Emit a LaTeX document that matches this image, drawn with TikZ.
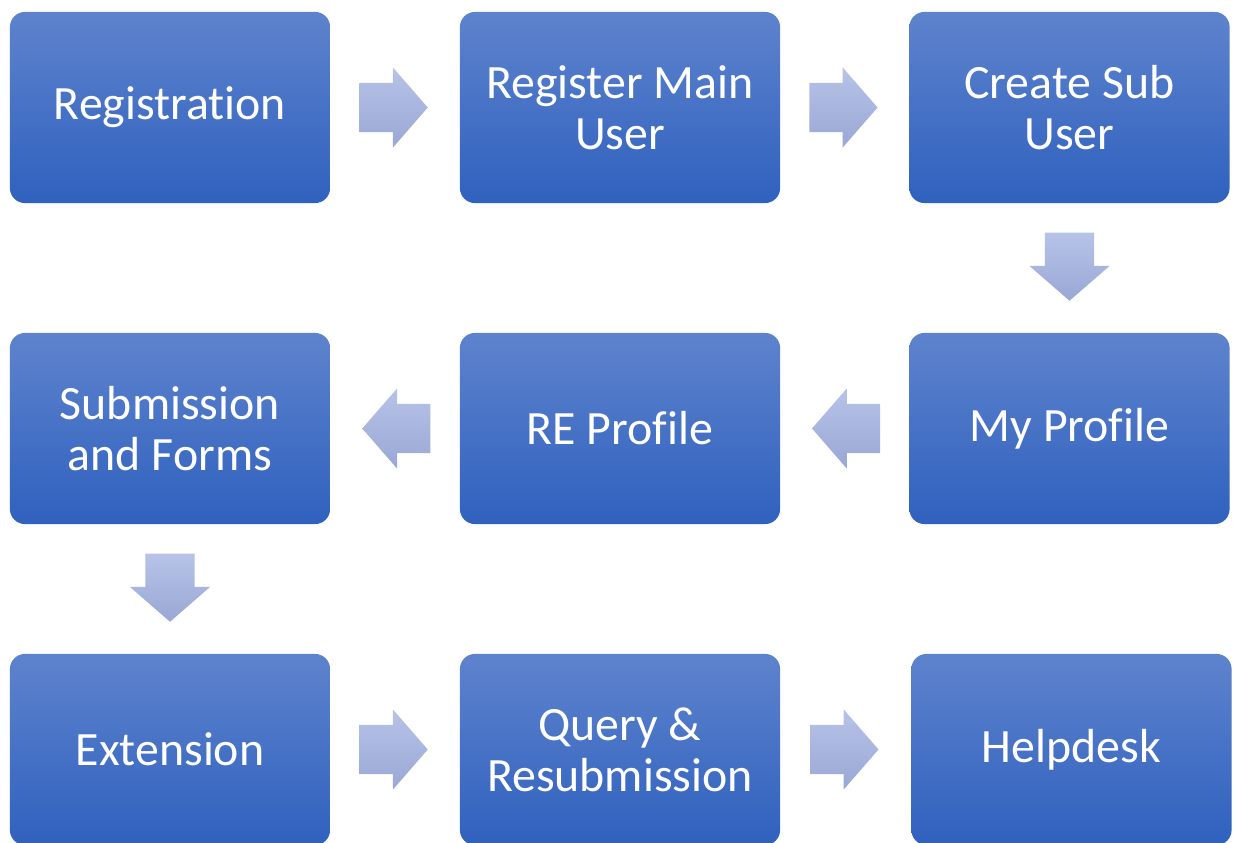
\documentclass[tikz,border=0pt]{standalone}
\usepackage{fontspec}
\setmainfont{Carlito}[RawFeature=-liga]
\usepackage{tikz}
\usetikzlibrary{positioning, shapes.arrows, calc}

\definecolor{boxtop}{RGB}{94,131,205}
\definecolor{boxbot}{RGB}{47,97,190}
\definecolor{arrtop}{RGB}{183,195,231}
\definecolor{arrbot}{RGB}{153,167,213}

\tikzset{
  stage/.style={rounded corners=0.15cm, minimum width=3.2cm, minimum height=1.91cm,
    top color=boxtop, bottom color=boxbot, text=white, align=center, inner sep=0pt,
    font=\fontsize{13.6}{14.6}\selectfont},
  flow/.style={single arrow, draw=none, anchor=tail, minimum height=0.68cm,
    minimum width=0.79cm, single arrow head extend=0.155cm, single arrow tip angle=98,
    top color=arrtop, bottom color=arrbot},
  flowh/.style={flow, inner xsep=0pt, inner ysep=0.24cm},
  flowv/.style={flow, inner xsep=0.24cm, inner ysep=0pt, shape border rotate=270}
}

\begin{document}
\begin{tikzpicture}[x=0.01cm,y=-0.01cm]

\useasboundingbox (0,0) rectangle (1233,842);

\node[stage] (reg) at (170,107.5) {Registration};
\node[stage] (main) at (620,107.5) {Register Main\\User};
\node[stage] (sub) at (1069.5,107.5) {Create Sub\\User};

\node[stage] (prof) at (1069.5,428.5) {My Profile};
\node[stage] (re) at (620,428.5) {RE Profile};
\node[stage] (subm) at (170,428.5) {Submission\\and Forms};

\node[stage] (ext) at (170,749.5) {Extension};
\node[stage] (query) at (620,749.5) {Query \&\\Resubmission};
\node[stage] (help) at (1071.5,749.5) {Helpdesk};

\node[flowh] (a1) at ($(reg.east)!0.5!(main.west)+(-36,0)$) {};
\node[flowh] (a2) at ($(main.east)!0.5!(sub.west)+(-36,0)$) {};
\node[flowv] (a3) at ($(sub.south)!0.5!(prof.north)+(0,-36)$) {};
\node[flowh, shape border rotate=180] (a4) at ($(prof.west)!0.5!(re.east)+(36,0)$) {};
\node[flowh, shape border rotate=180] (a5) at ($(re.west)!0.5!(subm.east)+(36,0)$) {};
\node[flowv] (a6) at ($(subm.south)!0.5!(ext.north)+(0,-36)$) {};
\node[flowh] (a7) at ($(ext.east)!0.5!(query.west)+(-36,0)$) {};
\node[flowh] (a8) at ($(query.east)!0.5!(help.west)+(-36,0)$) {};

\end{tikzpicture}
\end{document}
